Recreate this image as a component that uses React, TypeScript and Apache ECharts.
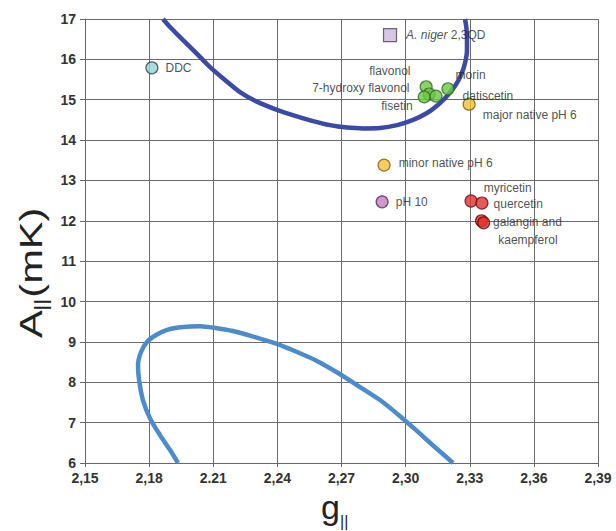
import React, { useEffect, useRef } from 'react';
import * as echarts from 'echarts';

// x-axis origin (the axis is drawn as offsets from this value)
const G0 = 2.15;
const xTickLabels = ['2,15', '2,18', '2.21', '2,24', '2,27', '2,30', '2,33', '2,36', '2,39'];

const pointLabels = [
  'DDC',
  'A. niger 2,3QD',
  'flavonol',
  '7-hydroxy flavonol',
  'fisetin',
  'datiscetin',
  'morin',
  'major native pH 6',
  'minor native pH 6',
  'pH 10',
  'myricetin',
  'quercetin',
  'galangin and',
  'kaempferol',
];
const pointG = [2.1813, 2.2927, 2.3096, 2.311, 2.3087, 2.3142, 2.3198, 2.3297, 2.2899, 2.289, 2.3306, 2.3357, 2.3355, 2.3365];
const pointA = [15.79, 16.6, 15.32, 15.14, 15.07, 15.09, 15.27, 14.89, 13.38, 12.47, 12.49, 12.44, 12.0, 11.95];

const darkCurveG = [
  2.1865, 2.1898, 2.1935, 2.1991, 2.2038, 2.2085, 2.2155, 2.2225, 2.2309, 2.2398, 2.2483, 2.2567, 2.2646, 2.2726,
  2.2801, 2.288, 2.296, 2.3035, 2.31, 2.3151, 2.3194, 2.3231, 2.3259, 2.3278, 2.3287, 2.3287, 2.3278,
];
const darkCurveA = [
  17.0, 16.8, 16.6, 16.31, 16.06, 15.81, 15.49, 15.19, 14.94, 14.75, 14.6, 14.47, 14.37, 14.31,
  14.29, 14.3, 14.37, 14.5, 14.67, 14.87, 15.09, 15.34, 15.61, 15.91, 16.23, 16.6, 17.0,
];

const lightCurveG = [
  2.1935, 2.1898, 2.1851, 2.1804, 2.1771, 2.1753, 2.1748, 2.1762, 2.179, 2.1832, 2.1884, 2.1959, 2.2038,
  2.2118, 2.2192, 2.2295, 2.2398, 2.2492, 2.2585, 2.2684, 2.2787, 2.288, 2.2974, 2.3058, 2.3142, 2.3222,
];
const lightCurveA = [
  6.0, 6.32, 6.69, 7.11, 7.56, 8.06, 8.43, 8.75, 9.0, 9.17, 9.3, 9.37, 9.39,
  9.34, 9.27, 9.12, 8.95, 8.75, 8.53, 8.23, 7.88, 7.56, 7.16, 6.77, 6.37, 6.0,
];

// styles (not data)
const teal = { color: '#93d4d4', borderColor: '#2f3f3f' };
const lav = { color: '#c9b8dd', borderColor: '#4a4050' };
const green = { color: '#6cc644', borderColor: '#2d6a22' };
const yellow = { color: '#f1c232', borderColor: '#7a5a10' };
const purple = { color: '#c47cc4', borderColor: '#4a284a' };
const red = { color: '#e62e2e', borderColor: '#5a1010' };
const pointStyle = [teal, lav, green, green, green, green, green, yellow, yellow, purple, red, red, red, red];
const labelPlace: [string, number, number][] = [
  ['right', 2, 0],
  ['right', 4, 0],
  ['left', -4, -16],
  ['left', -8, -6],
  ['left', 0, 9],
  ['right', 15, 0],
  ['right', -4, -14],
  ['right', 2, 11],
  ['right', 3, -2],
  ['right', 2, 0],
  ['right', 1, -13],
  ['right', 0, 1],
  ['right', 0, 1],
  ['right', 3, 17],
];

export default function App() {
  const ref = useRef<HTMLDivElement>(null);
  useEffect(() => {
    if (!ref.current) return;
    const chart = echarts.init(ref.current, null, { renderer: 'svg' });
    const font = 'Liberation Sans, Arial, sans-serif';
    const scatterData = pointG.map((g, i) => ({
      value: [g - G0, pointA[i]],
      symbol: i === 1 ? 'rect' : 'circle',
      symbolSize: i === 1 ? 13 : 12,
      itemStyle: { color: pointStyle[i].color, borderColor: pointStyle[i].borderColor, borderWidth: 1.2 },
      label: {
        show: true,
        position: labelPlace[i][0],
        offset: [labelPlace[i][1], labelPlace[i][2]],
        distance: 5,
        formatter: i === 1 ? '{it|A. niger} 2,3QD' : pointLabels[i],
        fontSize: 12,
        fontFamily: font,
        color: '#222',
        rich: { it: { fontStyle: 'italic', fontSize: 12, fontFamily: font, color: '#222' } },
      },
    }));
    chart.setOption({
      animation: false,
      backgroundColor: '#ffffff',
      grid: { left: 85, right: 18, top: 19, bottom: 68, containLabel: false },
      xAxis: {
        type: 'value',
        min: 0,
        max: 0.24,
        interval: 0.03,
        axisLine: { show: true, onZero: false, lineStyle: { color: '#666', width: 1 } },
        axisTick: { show: true, length: 4, lineStyle: { color: '#666' } },
        splitLine: { show: true, lineStyle: { color: '#6f6a6a', width: 1 } },
        axisLabel: {
          formatter: (_v: number, idx: number) => xTickLabels[idx] ?? '',
          fontSize: 14,
          fontWeight: 'bold',
          color: '#333',
          fontFamily: font,
          margin: 8,
        },
      },
      yAxis: {
        type: 'value',
        min: 6,
        max: 17,
        interval: 1,
        axisLine: { show: true, lineStyle: { color: '#666', width: 1 } },
        axisTick: { show: true, length: 5, lineStyle: { color: '#666' } },
        splitLine: { show: true, lineStyle: { color: '#6f6a6a', width: 1 } },
        axisLabel: { fontSize: 14, fontWeight: 'bold', color: '#333', fontFamily: font, margin: 9 },
      },
      graphic: [
        {
          type: 'group',
          x: 31,
          y: 338,
          rotation: Math.PI / 2,
          scaleX: 1.3,
          children: [
            { type: 'text', x: 0, y: 0, style: { text: 'A', fontSize: 32, fontFamily: font, fill: '#222', align: 'left', verticalAlign: 'middle' } },
            { type: 'text', x: 21, y: 10, style: { text: '||', fontSize: 18, fontFamily: font, fill: '#222', align: 'left', verticalAlign: 'middle' } },
            { type: 'text', x: 31, y: 0, style: { text: '(mK)', fontSize: 32, fontFamily: font, fill: '#222', align: 'left', verticalAlign: 'middle' } },
          ],
        },
        { type: 'text', x: 321, y: 507, style: { text: 'g', fontSize: 34, fontFamily: font, fill: '#222', align: 'left', verticalAlign: 'middle' } },
        { type: 'text', x: 340, y: 521, style: { text: '||', fontSize: 16, fontFamily: font, fill: '#222', align: 'left', verticalAlign: 'middle' } },
      ],
      series: [
        {
          type: 'line',
          data: darkCurveG.map((g, i) => [g - G0, darkCurveA[i]]),
          smooth: 0.3,
          showSymbol: false,
          symbol: 'none',
          lineStyle: { color: '#3b49a7', width: 4.5 },
          z: 2,
          silent: true,
        },
        {
          type: 'line',
          data: lightCurveG.map((g, i) => [g - G0, lightCurveA[i]]),
          smooth: 0.3,
          showSymbol: false,
          symbol: 'none',
          lineStyle: { color: '#4d8ccb', width: 4.5 },
          z: 2,
          silent: true,
        },
        {
          type: 'scatter',
          data: scatterData,
          z: 3,
        },
      ],
    });
    return () => chart.dispose();
  }, []);
  return <div ref={ref} style={{ position: 'fixed', left: 0, top: 0, width: 616, height: 531 }} />;
}
